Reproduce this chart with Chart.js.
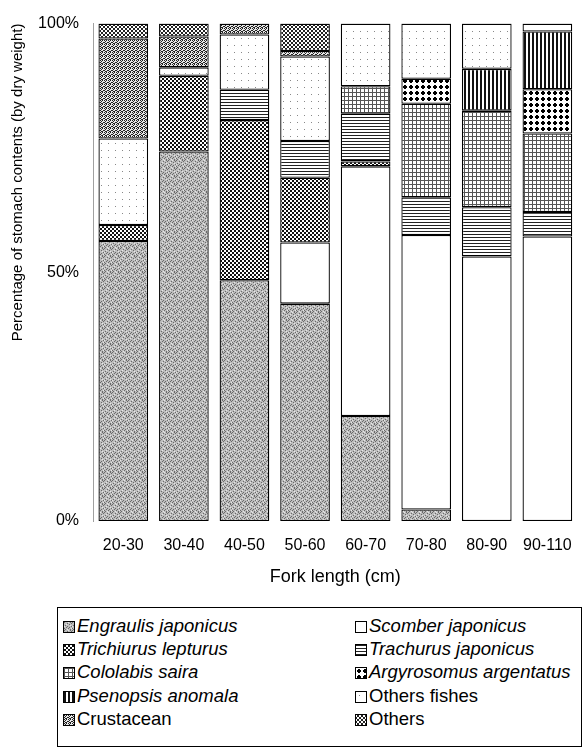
<!DOCTYPE html>
<html><head><meta charset="utf-8">
<script src="https://cdn.jsdelivr.net/npm/chart.js@4.4.1/dist/chart.umd.min.js"></script>
<style>
html,body{margin:0;padding:0;background:#fff;}
#wrap{position:relative;width:587px;height:748px;overflow:hidden;background:#fff;}
#c{position:absolute;left:0;top:0;}
#legend{position:absolute;left:57px;top:607px;width:525px;height:140px;border:1px solid #000;box-sizing:border-box;font-family:'Liberation Sans',Arial,sans-serif;font-size:18.5px;color:#000;}
.item{position:absolute;height:22px;line-height:22px;white-space:nowrap;}
.item canvas{position:absolute;left:0;top:6px;border:1px solid #000;}
.item span{position:absolute;left:14px;top:0;}
</style></head>
<body><div id="wrap"><canvas id="c" width="587" height="600"></canvas><div id="legend"></div></div>
<script>
// ---- data (percent of stomach contents by dry weight) ----
const categories = ['20-30','30-40','40-50','50-60','60-70','70-80','80-90','90-110'];
const seriesNames = ['Engraulis japonicus','Scomber japonicus','Trichiurus lepturus','Trachurus japonicus','Cololabis saira','Argyrosomus argentatus','Psenopsis anomala','Others fishes','Crustacean','Others'];
const italicNames = [true,true,true,true,true,true,true,false,false,false];
const engraulis   = [56.3,74.3,48.4,43.7,21.1, 2.3, 0.0, 0.0];
const scomber     = [ 0.0, 0.0, 0.0,12.3,50.2,55.2,53.2,57.2];
const trichiurus  = [ 3.2,15.2,32.2,13.0, 1.0, 0.0, 0.0, 0.0];
const trachurus   = [ 0.0, 0.0, 6.1, 7.4, 9.6, 7.6, 9.9, 4.9];
const cololabis   = [ 0.0, 0.0, 0.0, 0.0, 5.5,18.8,19.4,15.8];
const argyrosomus = [ 0.0, 0.0, 0.0, 0.0, 0.0, 5.0, 0.0, 8.9];
const psenopsis   = [ 0.0, 0.0, 0.0, 0.0, 0.0, 0.0, 8.4,11.6];
const othersFish  = [17.4, 1.7,11.1,17.0,12.6,11.1, 9.1, 1.6];
const crustacean  = [20.1, 6.2, 2.2, 1.1, 0.0, 0.0, 0.0, 0.0];
const others      = [ 3.0, 2.6, 0.0, 5.5, 0.0, 0.0, 0.0, 0.0];
const yTicks = [0,50,100];
const seriesValues = [engraulis,scomber,trichiurus,trachurus,cololabis,argyrosomus,psenopsis,othersFish,crustacean,others];

// ---- fill patterns (styles) ----
function tile(w,h,draw){const c=document.createElement('canvas');c.width=w;c.height=h;const x=c.getContext('2d');draw(x);return c;}
function px(x,pts,col){x.fillStyle=col;pts.forEach(p=>x.fillRect(p[0],p[1],1,1));}
const tiles = [
  // Engraulis: gray stipple
  tile(8,8,x=>{x.fillStyle='#bdbdbd';x.fillRect(0,0,8,8);
    px(x,[[0,0],[3,1],[6,0],[1,3],[5,2],[7,4],[2,5],[4,6],[6,7],[0,6],[3,4],[5,5],[1,7],[7,1]],'#6a6a6a');
    px(x,[[2,2],[6,3],[4,0],[0,4],[3,7],[7,6]],'#e6e6e6');}),
  // Scomber: white
  tile(4,4,x=>{x.fillStyle='#fff';x.fillRect(0,0,4,4);}),
  // Trichiurus: checker crosshatch
  tile(4,4,x=>{x.fillStyle='#fff';x.fillRect(0,0,4,4);x.fillStyle='#111';x.fillRect(0,0,2,2);x.fillRect(2,2,2,2);}),
  // Trachurus: horizontal lines
  tile(3,3,x=>{x.fillStyle='#fff';x.fillRect(0,0,3,3);x.fillStyle='#222';x.fillRect(0,0,3,1);}),
  // Cololabis: fine grid
  tile(4,4,x=>{x.fillStyle='#fff';x.fillRect(0,0,4,4);x.fillStyle='#555';x.fillRect(0,0,4,1);x.fillRect(0,0,1,4);}),
  // Argyrosomus: bold dots
  tile(6,6,x=>{x.fillStyle='#fff';x.fillRect(0,0,6,6);x.fillStyle='#000';x.fillRect(1,2,4,2);x.fillRect(2,1,2,4);}),
  // Psenopsis: vertical lines
  tile(4,4,x=>{x.fillStyle='#fff';x.fillRect(0,0,4,4);x.fillStyle='#111';x.fillRect(0,0,2,4);}),
  // Others fishes: white with sparse dots
  tile(7,7,x=>{x.fillStyle='#fff';x.fillRect(0,0,7,7);px(x,[[3,3]],'#888');}),
  // Crustacean: dense dotted
  tile(4,4,x=>{x.fillStyle='#e8e8e8';x.fillRect(0,0,4,4);px(x,[[0,0],[2,0],[1,1],[3,2],[0,2],[2,3],[1,3]],'#222');}),
  // Others: crosshatch
  tile(4,4,x=>{x.fillStyle='#fff';x.fillRect(0,0,4,4);x.fillStyle='#222';x.fillRect(1,0,2,2);x.fillRect(3,2,1,2);x.fillRect(0,2,1,2);})
];
const cv = document.getElementById('c');
const ctx = cv.getContext('2d');
const patterns = tiles.map(t=>ctx.createPattern(t,'repeat'));

const datasets = seriesNames.map((name,i)=>({
  label: name,
  // empty segments are left out so they do not draw a border line
  data: seriesValues[i].map(v => v === 0 ? null : v),
  backgroundColor: patterns[i],
  borderColor: '#000',
  borderWidth: 1.3,
  borderSkipped: false,
  categoryPercentage: 1.0,
  barPercentage: 0.82
}));

const FONT = "'Liberation Sans', Arial, sans-serif";
new Chart(ctx, {
  type: 'bar',
  data: { labels: categories, datasets },
  options: {
    responsive: false,
    animation: false,
    layout: { padding: { left: 0, right: 5, top: 15, bottom: 0 } },
    plugins: { legend: { display: false }, tooltip: { enabled: false } },
    scales: {
      x: {
        stacked: true,
        grid: { display: false, drawTicks: false },
        border: { display: false },
        ticks: { color: '#000', font: { family: FONT, size: 16 }, padding: 15 },
        title: { display: true, text: 'Fork length (cm)', color: '#000', font: { family: FONT, size: 18 }, padding: { top: 4, bottom: 12 } },
        afterFit: s => { s.height = 79; }
      },
      y: {
        stacked: true,
        min: 0, max: 100,
        afterBuildTicks: s => { s.ticks = yTicks.map(v => ({ value: v })); },
        grid: { display: false, drawTicks: false },
        border: { display: true, color: '#a0a0a0', width: 1, dash: [14, 6] },
        ticks: { color: '#000', font: { family: FONT, size: 16 }, padding: 14, callback: v => v + '%' },
        title: { display: true, text: 'Percentage of stomach contents (by dry weight)', align: 'end', color: '#000', font: { family: FONT, size: 15 }, padding: { top: 9, bottom: 4 } },
        afterFit: s => { s.width = 93; }
      }
    }
  }
});

// ---- legend (HTML, built from the series names) ----
const lg = document.getElementById('legend');
const rowsY = [7, 30, 53, 77, 100];
seriesNames.forEach((name,i)=>{
  const col = i % 2, row = Math.floor(i/2);
  const d = document.createElement('div');
  d.className = 'item';
  d.style.left = (col === 0 ? 5 : 297) + 'px';
  d.style.top = rowsY[row] + 'px';
  const sw = document.createElement('canvas');
  sw.width = 10; sw.height = 10;
  const sc = sw.getContext('2d');
  sc.fillStyle = sc.createPattern(tiles[i],'repeat');
  sc.fillRect(0,0,10,10);
  const sp = document.createElement('span');
  sp.textContent = name;
  if (italicNames[i]) sp.style.fontStyle = 'italic';
  d.appendChild(sw); d.appendChild(sp);
  lg.appendChild(d);
});
</script>
</body></html>
